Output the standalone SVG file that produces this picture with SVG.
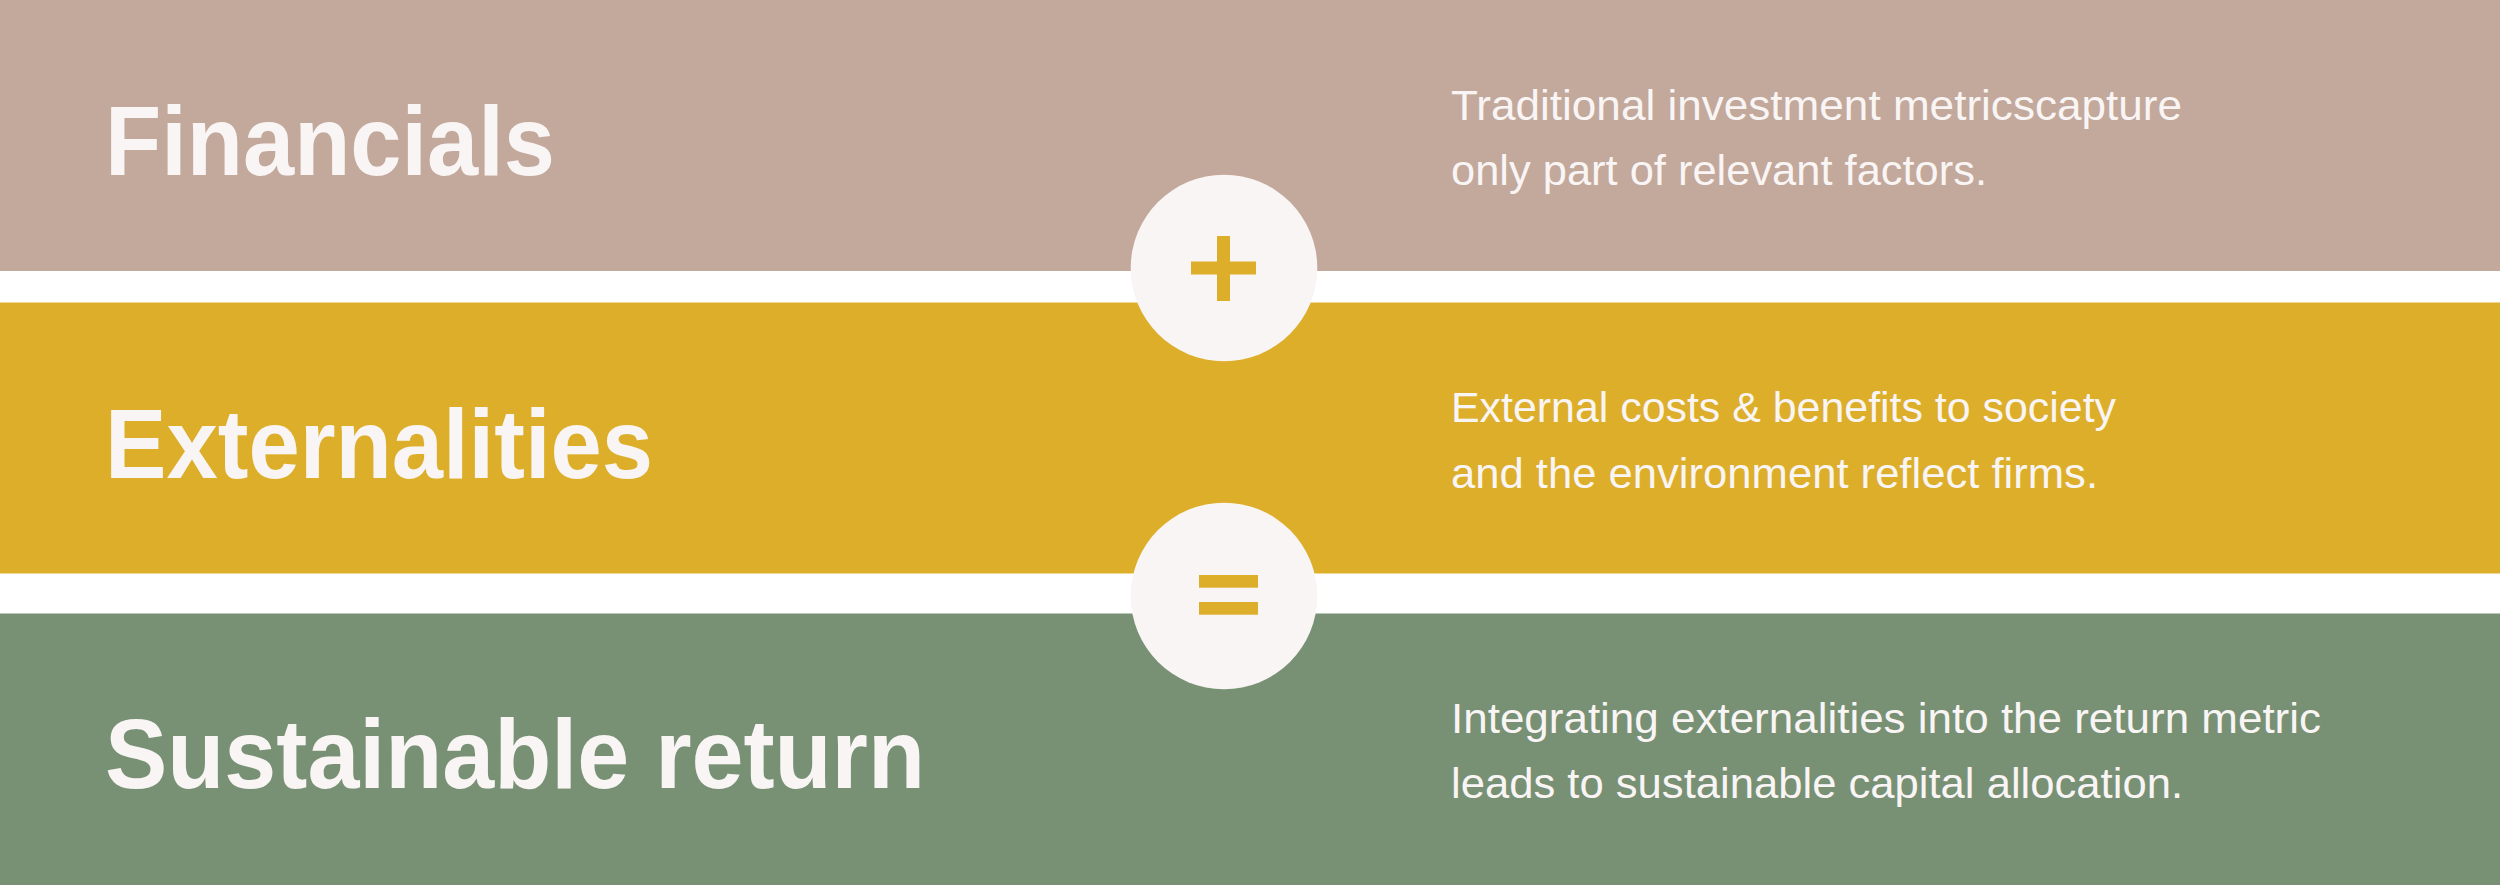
<svg xmlns="http://www.w3.org/2000/svg" width="2500" height="885" viewBox="0 0 2500 885">
  <style>
    .title { font-family: "Liberation Sans", Arial, sans-serif; font-weight: 700; font-size: 98px; fill: #F9F5F4; }
    .desc { font-family: "Liberation Sans", Arial, sans-serif; font-size: 42px; fill: #F9F5F4; }
    .badge { fill: #F9F5F4; }
    .sym { fill: #DDAE2A; }
  </style>
  <rect x="0" y="0" width="2500" height="885" fill="#FFFFFF"/>
  <g id="financials">
    <rect x="0" y="0" width="2500" height="271" fill="#C3A89C"/>
    <text class="title" x="105" y="175" textLength="450" lengthAdjust="spacingAndGlyphs">Financials</text>
    <text class="desc" x="1451" y="120" textLength="731" lengthAdjust="spacingAndGlyphs">Traditional investment metricscapture</text>
    <text class="desc" x="1451" y="185" textLength="536" lengthAdjust="spacingAndGlyphs">only part of relevant factors.</text>
  </g>
  <g id="externalities">
    <rect x="0" y="302.5" width="2500" height="271" fill="#DDAE2A"/>
    <text class="title" x="105" y="478" textLength="548" lengthAdjust="spacingAndGlyphs">Externalities</text>
    <text class="desc" x="1451" y="422" textLength="665" lengthAdjust="spacingAndGlyphs">External costs &amp; benefits to society</text>
    <text class="desc" x="1451" y="488" textLength="647" lengthAdjust="spacingAndGlyphs">and the environment reflect firms.</text>
  </g>
  <g id="sustainable-return">
    <rect x="0" y="613.5" width="2500" height="271.5" fill="#789174"/>
    <text class="title" x="105" y="788" textLength="820" lengthAdjust="spacingAndGlyphs">Sustainable return</text>
    <text class="desc" x="1451" y="733" textLength="870" lengthAdjust="spacingAndGlyphs">Integrating externalities into the return metric</text>
    <text class="desc" x="1451" y="798" textLength="732" lengthAdjust="spacingAndGlyphs">leads to sustainable capital allocation.</text>
  </g>
  <g id="plus-badge">
    <circle class="badge" cx="1224" cy="268" r="93.3"/>
    <rect class="sym" x="1217" y="236" width="13" height="65"/>
    <rect class="sym" x="1191" y="261.5" width="65" height="13"/>
  </g>
  <g id="equals-badge">
    <circle class="badge" cx="1224" cy="596" r="93.3"/>
    <rect class="sym" x="1199" y="575" width="59" height="12.7"/>
    <rect class="sym" x="1199" y="602" width="59" height="12.7"/>
  </g>
  <g id="connectors"/>
</svg>
